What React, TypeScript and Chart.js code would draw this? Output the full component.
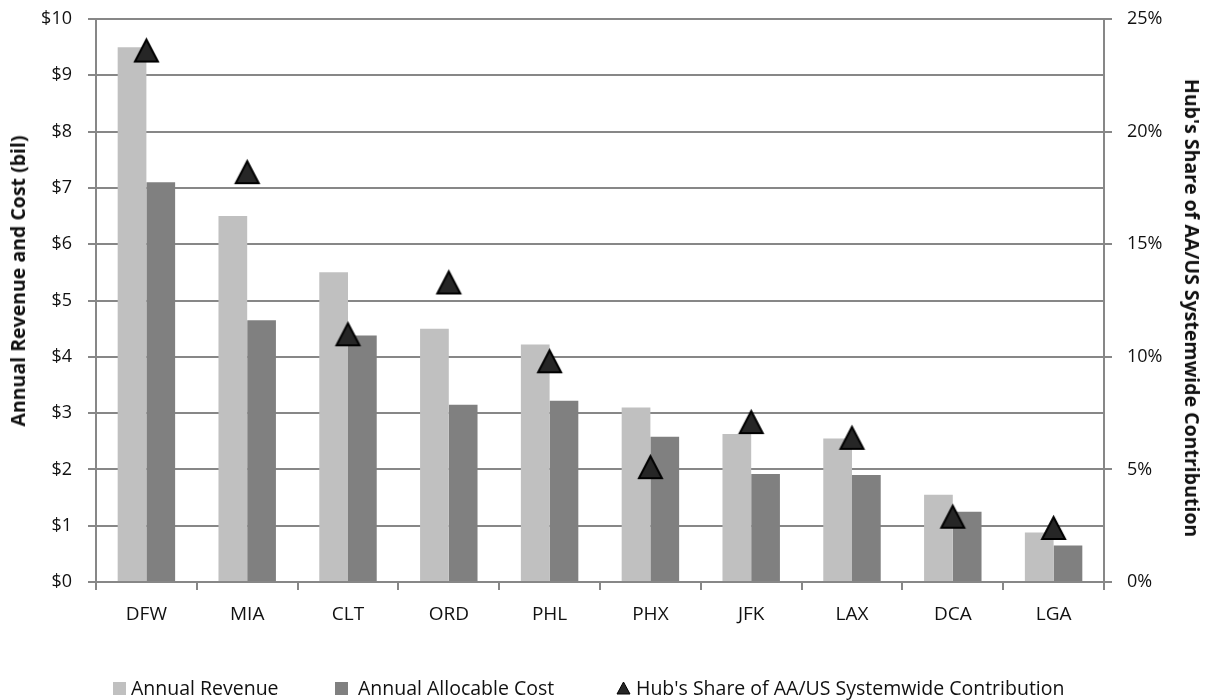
import React, { useEffect, useRef } from 'react';
import { Chart, registerables } from 'chart.js';

Chart.register(...registerables);

// Hubs along the category axis
const hubs = ['DFW', 'MIA', 'CLT', 'ORD', 'PHL', 'PHX', 'JFK', 'LAX', 'DCA', 'LGA'];

// Annual revenue per hub, $ billions
const annualRevenue = [9.5, 6.5, 5.5, 4.5, 4.22, 3.1, 2.63, 2.55, 1.55, 0.88];

// Annual allocable cost per hub, $ billions
const annualAllocableCost = [7.1, 4.65, 4.38, 3.15, 3.22, 2.58, 1.92, 1.9, 1.25, 0.65];

// Hub's share of AA/US systemwide contribution, percent
const hubShare = [23.6, 18.2, 11.0, 13.3, 9.8, 5.1, 7.1, 6.4, 2.9, 2.4];

// Axis ranges and tick steps
const dollarAxis = { min: 0, max: 10, step: 1 };
const shareAxis = { min: 0, max: 25, step: 5 };

// Series / axis labels
const seriesLabels = [
  'Annual Revenue',
  'Annual Allocable Cost',
  "Hub's Share of AA/US Systemwide Contribution",
];
const leftAxisTitle = 'Annual Revenue and Cost (bil)';
const rightAxisTitle = "Hub's Share of AA/US Systemwide Contribution";

const REVENUE_COLOR = '#c0c0c0';
const COST_COLOR = '#808080';
const MARKER_FILL = '#262626';
const GRID_COLOR = '#878787';
const TEXT_COLOR = '#111111';
const FONT_FAMILY = '"Open Sans", "Noto Sans", sans-serif';

// Triangle marker drawn once on an offscreen canvas; Chart.js centres it on each point
function makeTriangle(w: number, h: number, lw: number): HTMLCanvasElement {
  const pad = 3;
  const c = document.createElement('canvas');
  c.width = w + pad * 2;
  c.height = h + pad * 2;
  const ctx = c.getContext('2d')!;
  ctx.beginPath();
  ctx.moveTo(pad + w / 2, pad);
  ctx.lineTo(pad + w, pad + h);
  ctx.lineTo(pad, pad + h);
  ctx.closePath();
  ctx.fillStyle = MARKER_FILL;
  ctx.fill();
  ctx.lineWidth = lw;
  ctx.lineJoin = 'miter';
  ctx.strokeStyle = '#000';
  ctx.stroke();
  return c;
}

// Fix a vertical axis to a given width and stop its labels from padding the plot area
const fixVerticalAxis = (width: number) => (s: any) => {
  s.width = width;
  s.paddingTop = 0;
  s.paddingBottom = 0;
};

export default function App() {
  const canvasRef = useRef<HTMLCanvasElement | null>(null);

  useEffect(() => {
    if (!canvasRef.current) return;
    const tri = makeTriangle(23, 22, 2);
    const tickFont = { family: FONT_FAMILY, size: 18 };

    const chart = new Chart(canvasRef.current, {
      type: 'bar',
      data: {
        labels: hubs,
        datasets: [
          {
            type: 'line',
            label: seriesLabels[2],
            data: hubShare,
            yAxisID: 'y2',
            showLine: false,
            pointStyle: tri as any,
            pointRadius: 13,
            pointHoverRadius: 13,
            order: 0,
          } as any,
          {
            type: 'bar',
            label: seriesLabels[0],
            data: annualRevenue,
            backgroundColor: REVENUE_COLOR,
            yAxisID: 'y',
            categoryPercentage: 0.57,
            barPercentage: 1,
            order: 1,
          },
          {
            type: 'bar',
            label: seriesLabels[1],
            data: annualAllocableCost,
            backgroundColor: COST_COLOR,
            yAxisID: 'y',
            categoryPercentage: 0.57,
            barPercentage: 1,
            order: 2,
          },
        ],
      },
      options: {
        responsive: false,
        animation: false,
        events: [],
        layout: { autoPadding: false, padding: { top: 19, left: 0, right: 0, bottom: 0 } },
        plugins: {
          legend: { display: false },
          tooltip: { enabled: false },
          title: { display: false },
        },
        scales: {
          x: {
            offset: true,
            grid: {
              display: true,
              offset: true,
              drawOnChartArea: false,
              drawTicks: true,
              tickLength: 8,
              color: GRID_COLOR,
              lineWidth: 2,
            },
            border: { display: true, color: GRID_COLOR, width: 2 },
            ticks: {
              font: { family: FONT_FAMILY, size: 19 },
              color: TEXT_COLOR,
              padding: 13,
              maxRotation: 0,
            },
            afterFit: (s: any) => {
              s.height = 118;
            },
          },
          y: {
            position: 'left',
            min: dollarAxis.min,
            max: dollarAxis.max,
            ticks: {
              stepSize: dollarAxis.step,
              callback: (v: any) => '$' + v,
              font: tickFont,
              color: TEXT_COLOR,
              padding: 16,
            },
            grid: { color: GRID_COLOR, lineWidth: 2, tickLength: 8 },
            border: { display: true, color: GRID_COLOR, width: 2 },
            afterFit: fixVerticalAxis(96),
          },
          y2: {
            position: 'right',
            min: shareAxis.min,
            max: shareAxis.max,
            ticks: {
              stepSize: shareAxis.step,
              callback: (v: any) => v + '%',
              font: tickFont,
              color: TEXT_COLOR,
              padding: 15,
            },
            grid: {
              drawOnChartArea: false,
              color: GRID_COLOR,
              lineWidth: 2,
              tickLength: 8,
            },
            border: { display: true, color: GRID_COLOR, width: 2 },
            afterFit: fixVerticalAxis(105),
          },
        },
      } as any,
    });

    return () => chart.destroy();
  }, []);

  const titleStyle: React.CSSProperties = {
    position: 'absolute',
    whiteSpace: 'nowrap',
    fontFamily: FONT_FAMILY,
    fontWeight: 700,
    fontSize: 19.5,
    lineHeight: '22px',
    color: TEXT_COLOR,
  };

  const legendText: React.CSSProperties = {
    position: 'absolute',
    top: 676,
    whiteSpace: 'nowrap',
    fontFamily: FONT_FAMILY,
    fontSize: 19.5,
    lineHeight: '24px',
    color: TEXT_COLOR,
  };

  const square = (left: number, color: string): React.CSSProperties => ({
    position: 'absolute',
    left,
    top: 682,
    width: 13,
    height: 13,
    background: color,
  });

  return (
    <div style={{ position: 'absolute', left: 0, top: 0, width: 1209, height: 700, background: '#fff' }}>
      <canvas ref={canvasRef} width={1209} height={700} style={{ display: 'block' }} />

      <div style={{ ...titleStyle, left: 18, top: 281, transform: 'translate(-50%, -50%) rotate(-90deg)' }}>
        {leftAxisTitle}
      </div>
      <div style={{ ...titleStyle, left: 1192, top: 308, transform: 'translate(-50%, -50%) rotate(90deg)' }}>
        {rightAxisTitle}
      </div>

      <div style={square(113, REVENUE_COLOR)} />
      <div style={{ ...legendText, left: 131 }}>{seriesLabels[0]}</div>
      <div style={square(335, COST_COLOR)} />
      <div style={{ ...legendText, left: 358 }}>{seriesLabels[1]}</div>
      <svg style={{ position: 'absolute', left: 616, top: 681 }} width={15} height={14}>
        <polygon points="7.5,1 14,13 1,13" fill={MARKER_FILL} stroke="#000" strokeWidth={1} />
      </svg>
      <div style={{ ...legendText, left: 636 }}>{seriesLabels[2]}</div>
    </div>
  );
}
